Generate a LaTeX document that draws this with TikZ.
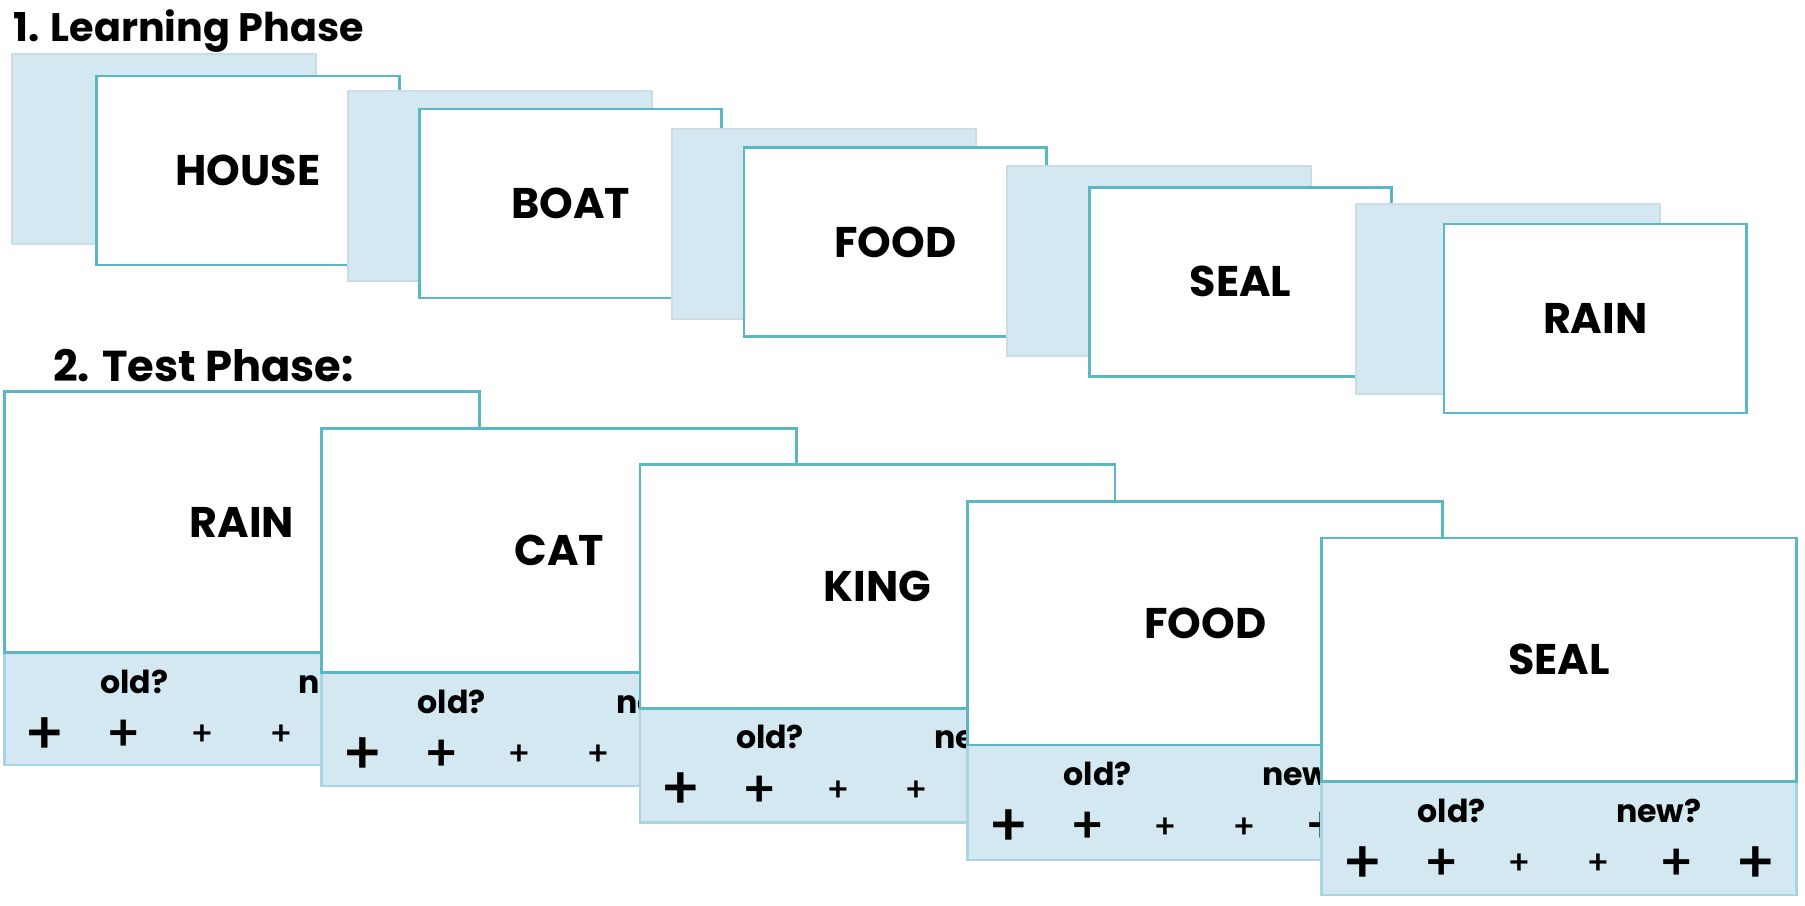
\documentclass[tikz,border=0pt]{standalone}
\usepackage{fontspec}
\setmainfont{Poppins}
\newfontfamily\plusfont{Poppins}[UprightFont=* Medium]
\usetikzlibrary{positioning}
\definecolor{cardteal}{RGB}{91,183,194}
\definecolor{cardblue}{RGB}{211,232,240}
\definecolor{backedge}{RGB}{205,219,230}
\definecolor{baredge}{RGB}{168,212,228}
\tikzset{
x=0.1mm, y=-0.1mm, % one unit is one pixel of the picture, y runs down
every node/.style={inner sep=0pt, outer sep=0pt},
backcard/.style={anchor=north west, draw=backedge, fill=cardblue, line width=0.6pt, minimum width=30.4mm, minimum height=19mm}, % the blue card behind each word
wordcard/.style={anchor=north west, draw=cardteal, fill=white, line width=0.8pt, minimum width=30.25mm, minimum height=18.9mm, font=\fontsize{12.2}{14}\selectfont\bfseries}, % the card with the word
testcard/.style={anchor=north west, draw=cardteal, fill=white, line width=0.8pt, minimum width=47.5mm, font=\fontsize{12.2}{14}\selectfont\bfseries},
answerbar/.style={anchor=north west, draw=baredge, fill=cardblue, line width=0.7pt, minimum width=47.5mm},
phase/.style={anchor=base west, font=\fontsize{11.3}{14}\selectfont\bfseries},
ask/.style={font=\fontsize{9}{11}\selectfont\bfseries},
plusbig/.style={font=\fontsize{17}{17}\selectfont\plusfont},
plusmid/.style={font=\fontsize{14.5}{15}\selectfont\plusfont},
plussmall/.style={font=\fontsize{9.5}{10}\selectfont\plusfont},
}
\begin{document}
\begin{tikzpicture}
\useasboundingbox (0,0) rectangle (1805,905);
% 1. learning phase
\node[phase] (learn) at (13.3,41.7) {1. Learning Phase};
\node[backcard] (b1) at (11.7,54.3) {};
\node[wordcard] (w1) at (96.7,76) {HOUSE};
\node[backcard] (b2) at (348.3,90.7) {};
\node[wordcard] (w2) at (419.3,109) {BOAT};
\node[backcard] (b3) at (672.3,129) {};
\node[wordcard] (w3) at (744,147.7) {FOOD};
\node[backcard] (b4) at (1007.3,166) {};
\node[wordcard] (w4) at (1089.3,187.3) {SEAL};
\node[backcard] (b5) at (1355.7,204.3) {};
\node[wordcard] (w5) at (1444,224) {RAIN};
% 2. test phase
\node[phase, font=\fontsize{12.3}{15}\selectfont\bfseries] (test) at (53.3,381.7) {2. Test Phase:};
\foreach \n/\x/\y/\d/\b/\word in {1/4.3/391.7/652.7/765/RAIN, 2/321.7/428.3/672.7/786/CAT, 3/640/464.3/708.3/822.7/KING, 4/967.7/501.7/745/860/FOOD, 5/1321.7/538/781.7/895/SEAL}{
  \pgfmathsetmacro\hw{(\d-\y)/10}
  \pgfmathsetmacro\hb{(\b-\d)/10}
  \node[answerbar, minimum height=\hb mm] (bar\n) at (\x,\d) {};
  \node[testcard, minimum height=\hw mm] (card\n) at (\x,\y) {\word};
  \node[ask] (old\n) at ([xshift=13mm, yshift=-2.9mm]bar\n.north west) {old?};
  \node[ask] (new\n) at ([xshift=33.7mm, yshift=-2.9mm]bar\n.north west) {new?};
  \foreach \k/\s in {0/big, 1/mid, 2/small, 3/small, 4/mid, 5/big}
    \node[plus\s] (plus\n\k) at ([xshift={(4.1+7.86*\k)*1mm}, yshift=-8.3mm]bar\n.north west) {+};
}
\end{tikzpicture}
\end{document}
